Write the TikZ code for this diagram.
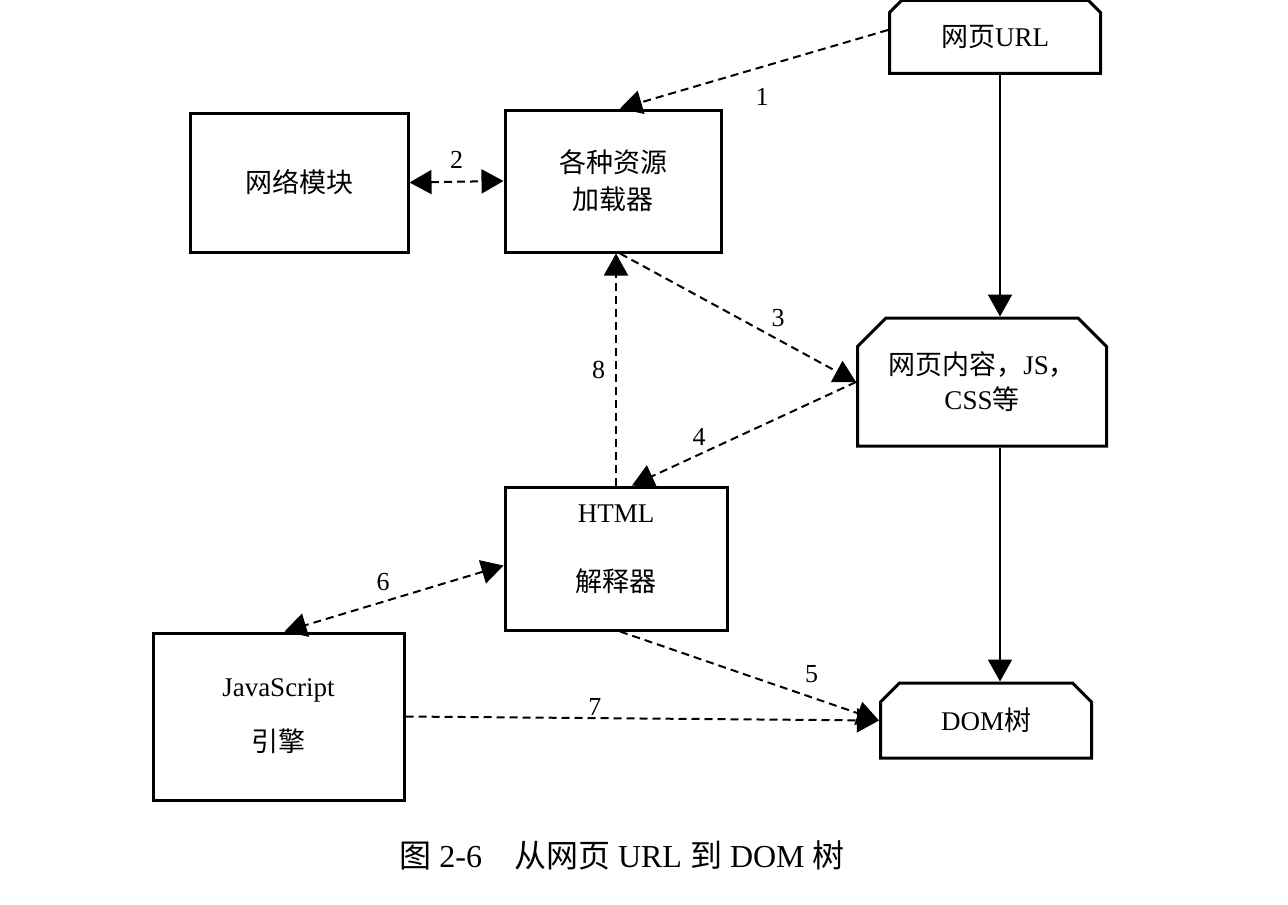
\documentclass[tikz,border=0pt]{standalone}
\usepackage{fontspec}
\setmainfont{Liberation Serif}
\newfontfamily\cjk{Noto Sans CJK SC}
\newcommand\zh[1]{{\cjk #1}}
\usetikzlibrary{positioning,shapes.misc,arrows.meta}

\begin{document}
\begin{tikzpicture}[x=0.5pt,y=-0.5pt,
  box/.style={draw, line width=1.5pt, inner sep=0pt, align=center, font=\fontsize{13.5}{16}\selectfont},
  cutbox/.style={box, chamfered rectangle, chamfered rectangle corners={north west,north east}},
  tip/.style={-{Triangle[length=11pt,width=12pt]}},
  dlink/.style={line width=1pt, dash pattern=on 4pt off 2.5pt},
  slink/.style={line width=1pt},
  num/.style={font=\fontsize{13}{15}\selectfont, inner sep=1pt}]
\useasboundingbox (0,0) rectangle (1288,904);

\node[cutbox, minimum width=105.5pt, minimum height=36.5pt, chamfered rectangle xsep=3pt, chamfered rectangle ysep=3pt] (url) at (995,37) {\zh{网页}URL};
\node[box, minimum width=109pt, minimum height=69.5pt] (net) at (299,182.5) {\zh{网络模块}};
\node[box, minimum width=108pt, minimum height=71pt] (loader) at (613,181) {\zh{各种资源}\\[2.5pt]\zh{加载器}};
\node[cutbox, minimum width=124.5pt, minimum height=64pt, chamfered rectangle xsep=7.5pt, chamfered rectangle ysep=6.75pt] (content) at (982,382) {\zh{网页内容，}JS\zh{，}\\[1.5pt]CSS\zh{等}};
\node[box, minimum width=111pt, minimum height=71.5pt] (html) at (616,558.5) {HTML\\[18.5pt]\zh{解释器}\\[-6pt]\mbox{}};
\node[box, minimum width=125.5pt, minimum height=83.5pt] (js) at (278.5,716.5) {JavaScript\\[11.5pt]\zh{引擎}};
\node[cutbox, minimum width=105.5pt, minimum height=37.5pt, chamfered rectangle xsep=4.5pt, chamfered rectangle ysep=5pt] (dom) at (986,720.5) {DOM\zh{树}};

% dashed flows
\draw[dlink, tip] ([yshift=3.5pt]url.west) -- node[num, pos=0.47, below=9pt] {1} ([xshift=3.5pt]loader.north);
\draw[dlink, {Triangle[length=11pt,width=12pt]}-{Triangle[length=11pt,width=12pt]}] (net.east) -- node[num, above=5pt] {2} (loader.west);
\draw[dlink, tip] ([xshift=3.5pt]loader.south) -- node[num, pos=0.67, above=5pt] {3} (content.west);
\draw[dlink, tip] (content.west) -- node[num, pos=0.70, above=3pt] {4} ([xshift=8pt]html.north);
\draw[dlink, tip] (html.north) -- node[num, left=4pt] {8} (html.north |- loader.south);
\draw[dlink, {Triangle[length=11pt,width=12pt]}-{Triangle[length=11pt,width=12pt]}] ([yshift=-3.5pt]html.west) -- node[num, pos=0.55, above=4pt] {6} ([xshift=3pt]js.north);
\draw[dlink, tip] ([xshift=2pt]html.south) -- node[num, pos=0.74, above=6pt] {5} (dom.west);
\draw[dlink, tip] (js.east) -- node[num, pos=0.4, above=0pt] {7} (dom.west);

% solid flows
\draw[slink, tip] ([xshift=2.5pt]url.south) -- ([xshift=2.5pt]url.south |- content.north);
\draw[slink, tip] ([xshift=2.5pt]url.south |- content.south) -- ([xshift=2.5pt]url.south |- dom.north);

\node[font=\fontsize{16}{18}\selectfont] (cap) at (622,855) {\zh{图} 2-6\quad\zh{从网页} URL \zh{到} DOM \zh{树}};
\end{tikzpicture}
\end{document}
